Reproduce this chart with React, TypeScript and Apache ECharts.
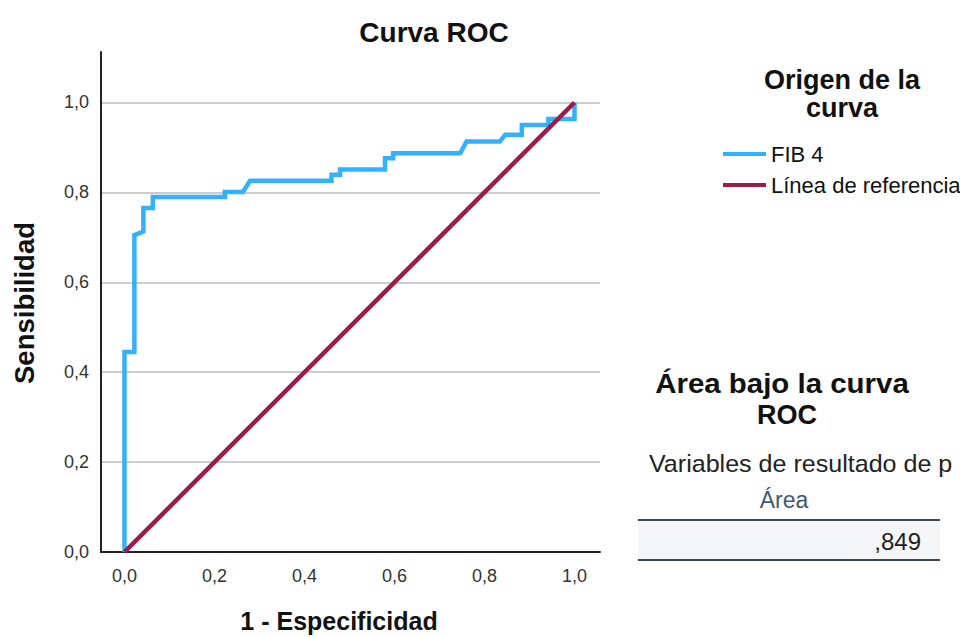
import React, { useEffect, useRef } from "react";
import * as echarts from "echarts";

const fpr = [0, 0, 0.022, 0.022, 0.042, 0.042, 0.063, 0.063, 0.223, 0.223, 0.263, 0.279, 0.46, 0.46, 0.479, 0.479, 0.579, 0.579, 0.597, 0.597, 0.746, 0.76, 0.834, 0.846, 0.883, 0.883, 0.942, 0.942, 1.0, 1.0];
const tpr = [0, 0.445, 0.445, 0.705, 0.713, 0.765, 0.765, 0.79, 0.79, 0.801, 0.801, 0.826, 0.826, 0.839, 0.839, 0.851, 0.851, 0.876, 0.876, 0.887, 0.887, 0.913, 0.913, 0.928, 0.928, 0.95, 0.95, 0.963, 0.963, 1.0];
const refX = [0, 1];
const refY = [0, 1];
const xTicks = [0, 0.2, 0.4, 0.6, 0.8, 1.0];
const seriesNames = ["FIB 4", "Línea de referencia"];
const aucValue = ",849";

const FONT = '"Liberation Sans", Arial, sans-serif';
const fmt = (v: number) => v.toFixed(1).replace(".", ",");

export default function App() {
  const ref = useRef<HTMLDivElement>(null);
  useEffect(() => {
    if (!ref.current) return;
    const chart = echarts.init(ref.current, null, { renderer: "svg" });
    const bold = (size: number) => ({ fontFamily: FONT, fontWeight: "bold" as const, fontSize: size });
    chart.setOption({
      animation: false,
      backgroundColor: "#ffffff",
      textStyle: { fontFamily: FONT },
      grid: { left: 101, top: 52, width: 499, height: 500, containLabel: false },
      xAxis: {
        type: "value",
        min: -0.0522,
        max: 1.0567,
        axisLine: { show: true, onZero: false, lineStyle: { color: "#222", width: 2 } },
        axisTick: { show: false },
        splitLine: { show: false },
        axisLabel: {
          customValues: xTicks,
          formatter: (v: number) => fmt(v),
          color: "#333",
          fontSize: 18,
          fontFamily: FONT,
          margin: 15,
        },
      },
      yAxis: {
        type: "value",
        min: 0,
        max: 1.1123,
        interval: 0.2,
        axisLine: { show: true, onZero: false, lineStyle: { color: "#222", width: 2 } },
        axisTick: { show: false },
        splitLine: { show: true, showMaxLine: false, lineStyle: { color: "#bdbdbd", width: 1.5 } },
        axisLabel: {
          showMaxLabel: false,
          formatter: (v: number) => fmt(v),
          color: "#333",
          fontSize: 18,
          fontFamily: FONT,
          margin: 12,
        },
      },
      legend: {
        data: seriesNames,
        orient: "vertical",
        left: 718,
        top: 138,
        icon: "rect",
        itemWidth: 43,
        itemHeight: 4,
        itemGap: 9,
        textStyle: { fontSize: 22, fontFamily: FONT, color: "#111", lineHeight: 22 },
        selectedMode: false,
      },
      series: [
        {
          name: seriesNames[0],
          type: "line",
          data: fpr.map((x, i) => [x, tpr[i]]),
          showSymbol: false,
          symbol: "none",
          lineStyle: { color: "#33b1ff", width: 4.5, join: "miter" },
          itemStyle: { color: "#33b1ff" },
          z: 2,
        },
        {
          name: seriesNames[1],
          type: "line",
          data: refX.map((x, i) => [x, refY[i]]),
          showSymbol: false,
          symbol: "none",
          lineStyle: { color: "#9c1b4b", width: 4.5 },
          itemStyle: { color: "#9c1b4b" },
          z: 3,
        },
      ],
      graphic: [
        { type: "text", x: 434, y: 32, style: { text: "Curva ROC", ...bold(28), fill: "#111", align: "center", verticalAlign: "middle" } },
        { type: "text", x: 24, y: 303, rotation: Math.PI / 2, style: { text: "Sensibilidad", ...bold(27.5), fill: "#111", align: "center", verticalAlign: "middle" } },
        { type: "text", x: 339, y: 621, style: { text: "1 - Especificidad", ...bold(25), fill: "#111", align: "center", verticalAlign: "middle" } },
        { type: "text", x: 842, y: 80, style: { text: "Origen de la", ...bold(27), fill: "#111", align: "center", verticalAlign: "middle" } },
        { type: "text", x: 842, y: 108, style: { text: "curva", ...bold(27), fill: "#111", align: "center", verticalAlign: "middle" } },
        { type: "text", x: 782, y: 383, scaleX: 1.09, style: { text: "Área bajo la curva", ...bold(27), fill: "#111", align: "center", verticalAlign: "middle" } },
        { type: "text", x: 787, y: 415, style: { text: "ROC", ...bold(27), fill: "#111", align: "center", verticalAlign: "middle" } },
        { type: "text", x: 649, y: 464, scaleX: 1.045, style: { text: "Variables de resultado de p", fontFamily: FONT, fontSize: 24, fill: "#222", align: "left", verticalAlign: "middle" } },
        { type: "text", x: 784, y: 500, style: { text: "Área", fontFamily: FONT, fontSize: 23, fill: "#3d5a74", align: "center", verticalAlign: "middle" } },
        { type: "rect", shape: { x: 638, y: 521, width: 302, height: 38 }, style: { fill: "#f5f6f8" } },
        { type: "line", shape: { x1: 638, y1: 520, x2: 940, y2: 520 }, style: { stroke: "#3b4753", lineWidth: 2 } },
        { type: "line", shape: { x1: 638, y1: 560, x2: 940, y2: 560 }, style: { stroke: "#3b4753", lineWidth: 2 } },
        { type: "text", x: 921, y: 541, style: { text: aucValue, fontFamily: FONT, fontSize: 24, fill: "#222", align: "right", verticalAlign: "middle" } },
      ],
    });
    return () => chart.dispose();
  }, []);
  return <div ref={ref} style={{ position: "fixed", left: 0, top: 0, width: 960, height: 637 }} />;
}
